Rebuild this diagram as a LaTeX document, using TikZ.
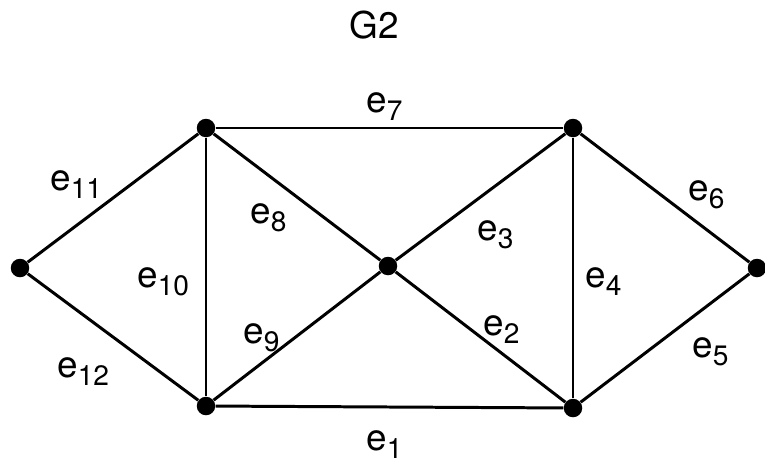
\documentclass[tikz,border=0pt]{standalone}
\usepackage{fontspec}
\setmainfont{TeX Gyre Heros}
\usetikzlibrary{positioning}
\newcommand{\elab}[1]{e\raisebox{-0.16cm}{\fontsize{16}{18}\selectfont #1}}

\begin{document}
\begin{tikzpicture}[
    x=0.02cm, y=-0.02cm,
    every node/.style={font=\fontsize{21}{25}\selectfont},
    vertex/.style={circle, fill=black, inner sep=0pt, minimum size=0.37cm},
    edge/.style={line width=1.7pt, black},
    elabel/.style={anchor=base west, inner sep=0pt}
]
    \useasboundingbox (0,0) rectangle (765,464);
    \node[elabel] (title) at (349,38) {G2};
    \node[vertex] (L) at (20,268) {};
    \node[vertex] (TL) at (206,128) {};
    \node[vertex] (BL) at (206,406) {};
    \node[vertex] (C) at (388,266) {};
    \node[vertex] (TR) at (573,128) {};
    \node[vertex] (BR) at (573,408) {};
    \node[vertex] (R) at (757,268) {};
    \draw[edge] (BL) -- (BR);
    \draw[edge] (C) -- (BR);
    \draw[edge] (C) -- (TR);
    \draw[edge] (TR) -- (BR);
    \draw[edge] (BR) -- (R);
    \draw[edge] (TR) -- (R);
    \draw[edge] (TL) -- (TR);
    \draw[edge] (TL) -- (C);
    \draw[edge] (BL) -- (C);
    \draw[edge] (TL) -- (BL);
    \draw[edge] (L) -- (TL);
    \draw[edge] (L) -- (BL);
    \node[elabel] (l1) at (366,450) {\elab{1}};
    \node[elabel] (l2) at (483,335) {\elab{2}};
    \node[elabel] (l3) at (477,240) {\elab{3}};
    \node[elabel] (l4) at (585,287) {\elab{4}};
    \node[elabel] (l5) at (692,357) {\elab{5}};
    \node[elabel] (l6) at (688,200) {\elab{6}};
    \node[elabel] (l7) at (366,112) {\elab{7}};
    \node[elabel] (l8) at (250,223) {\elab{8}};
    \node[elabel] (l9) at (243,343) {\elab{9}};
    \node[elabel] (l10) at (137,287) {\elab{10}};
    \node[elabel] (l11) at (50,190) {\elab{11}};
    \node[elabel] (l12) at (57,377) {\elab{12}};
\end{tikzpicture}
\end{document}
